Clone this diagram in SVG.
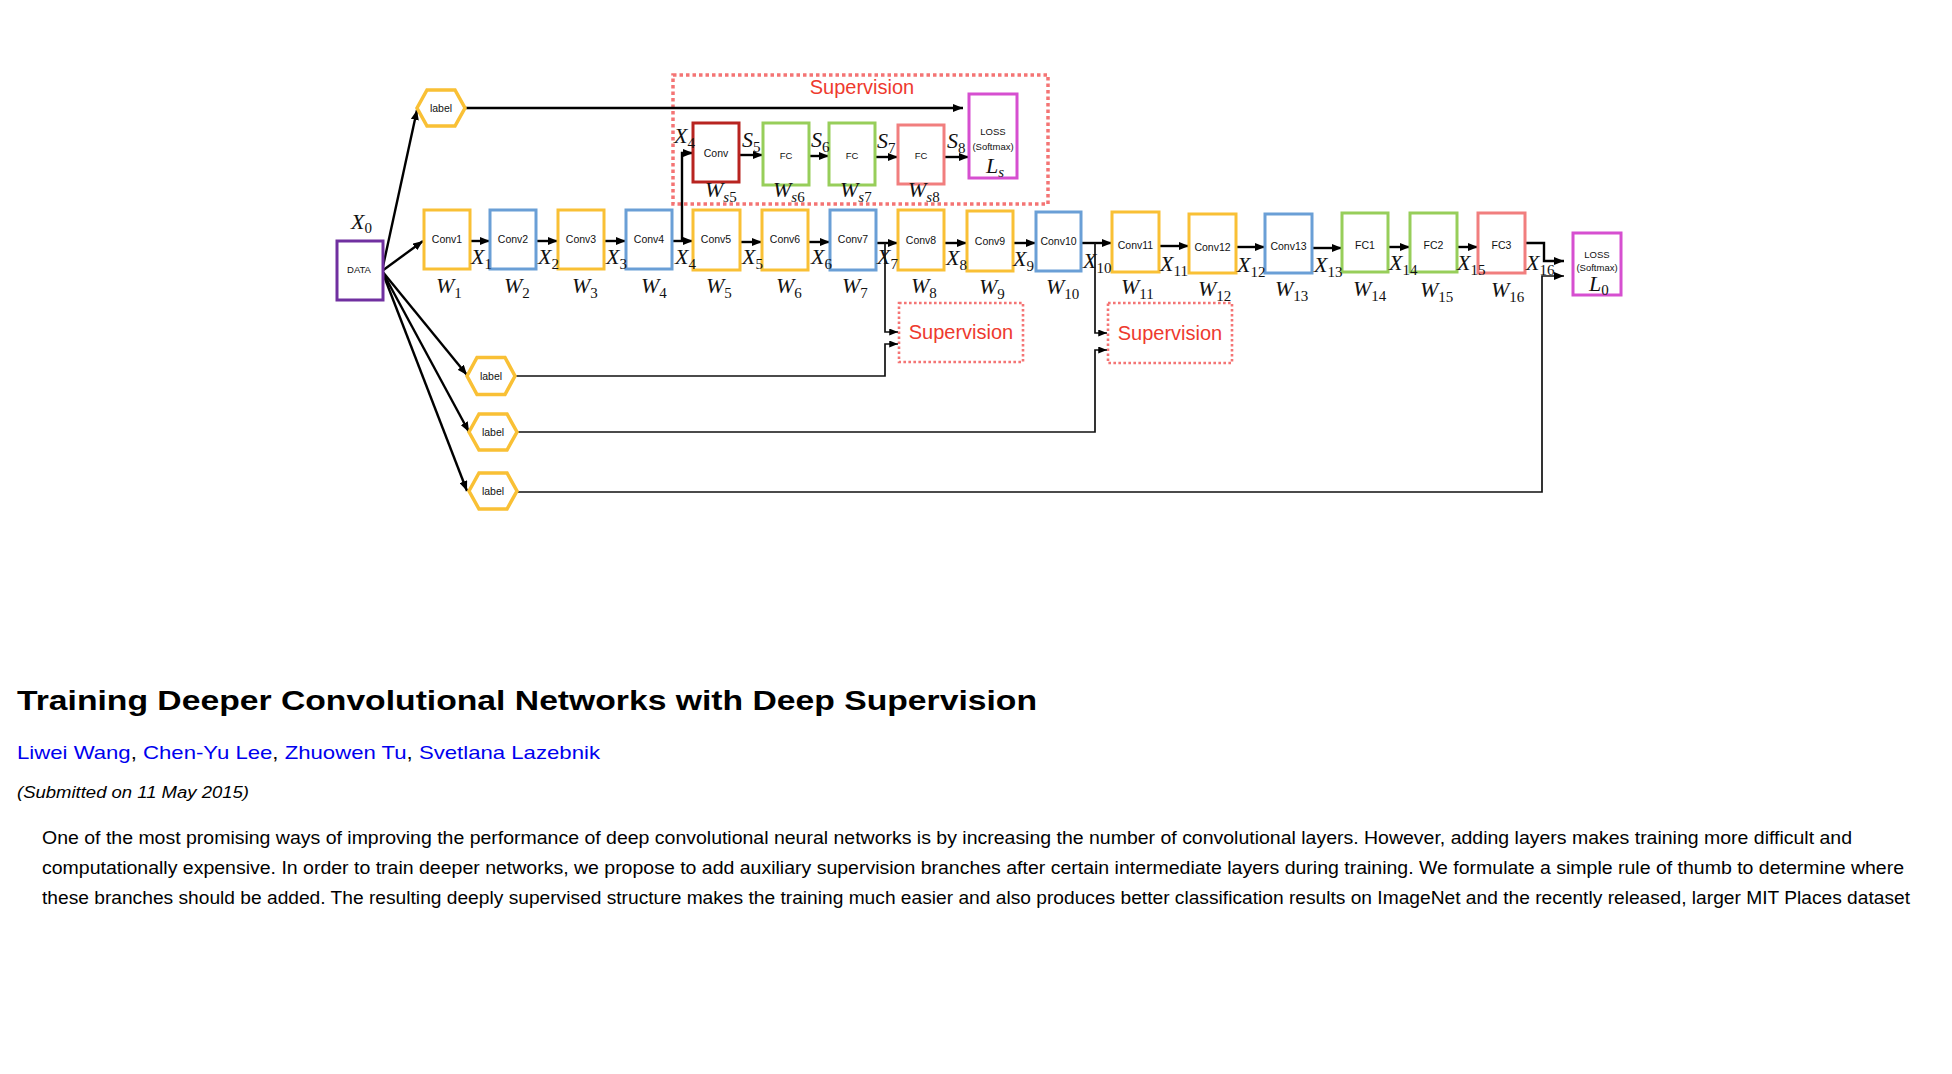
<svg xmlns="http://www.w3.org/2000/svg" width="1952" height="1074" viewBox="0 0 1952 1074">
<defs>
<style>
.bx{fill:#fff;stroke-width:3}
.gold{stroke:#F9C035}.blue{stroke:#6A9FD6}.green{stroke:#97CE5A}.pink{stroke:#F17E7E}.mag{stroke:#D64FD0}.purple{stroke:#7030A0}.dred{stroke:#B82420}
.hex{fill:#fff;stroke:#F9C035;stroke-width:3.5}
.t{font-family:"Liberation Sans",Arial,sans-serif;font-size:10.5px;fill:#111;text-anchor:middle}
.ts{font-family:"Liberation Sans",Arial,sans-serif;font-size:9.5px;fill:#111;text-anchor:middle}
.m{font-family:"Liberation Serif","Times New Roman",serif;font-style:italic;font-size:22px;fill:#111}
.sb{font-size:15px;font-style:normal}
.si{font-size:15px;font-style:italic}
.sup{font-family:"Liberation Sans",Arial,sans-serif;font-size:20px;fill:#EE3A2E;text-anchor:middle}
.dot{fill:none;stroke:#F47474}
.c{fill:none;stroke:#000;stroke-width:2.4}
.c2{fill:none;stroke:#111;stroke-width:1.7}
.body{font-family:"Liberation Sans",Arial,sans-serif;fill:#000}
</style>
<marker id="ah" viewBox="0 0 10 8" refX="10" refY="4" markerWidth="10" markerHeight="8" markerUnits="userSpaceOnUse" orient="auto"><path d="M0,0 L10,4 L0,8 z" fill="#000"/></marker>
<marker id="as" viewBox="0 0 10 8" refX="10" refY="4" markerWidth="9" markerHeight="7" markerUnits="userSpaceOnUse" orient="auto"><path d="M0,0 L10,4 L0,8 z" fill="#000"/></marker>
</defs>
<rect width="1952" height="1074" fill="#fff"/>

<!-- supervision areas -->
<g id="supervision-main">
<rect class="dot" x="673" y="75" width="375" height="129" stroke-width="3.5" stroke-dasharray="3.5 3"/>
<text class="sup" x="862" y="94">Supervision</text>
</g>
<g id="supervision-a">
<rect class="dot" x="899" y="303" width="124" height="59" stroke-width="2.6" stroke-dasharray="2.6 2.4"/>
<text class="sup" x="961" y="339">Supervision</text>
</g>
<g id="supervision-b">
<rect class="dot" x="1108" y="303" width="124" height="60" stroke-width="2.6" stroke-dasharray="2.6 2.4"/>
<text class="sup" x="1170" y="340">Supervision</text>
</g>

<!-- connectors -->
<g id="connectors">
<line class="c" x1="382" y1="271" x2="417" y2="110" marker-end="url(#ah)"/>
<line class="c" x1="382" y1="271" x2="423" y2="241" marker-end="url(#ah)"/>
<line class="c" x1="382" y1="271" x2="467" y2="375" marker-end="url(#ah)"/>
<line class="c" x1="382" y1="271" x2="469" y2="432" marker-end="url(#ah)"/>
<line class="c" x1="382" y1="271" x2="467" y2="491" marker-end="url(#ah)"/>
<line class="c" x1="465" y1="108" x2="963" y2="108" marker-end="url(#ah)"/>
<line class="c" x1="470" y1="241" x2="490" y2="241" marker-end="url(#ah)"/>
<line class="c" x1="536" y1="241" x2="558" y2="241" marker-end="url(#ah)"/>
<line class="c" x1="604" y1="241" x2="626" y2="241" marker-end="url(#ah)"/>
<line class="c" x1="672" y1="241" x2="693" y2="241" marker-end="url(#ah)"/>
<path class="c" d="M682,241 V153 H693" marker-end="url(#ah)"/>
<line class="c" x1="740" y1="242" x2="762" y2="242" marker-end="url(#ah)"/>
<line class="c" x1="808" y1="242" x2="830" y2="242" marker-end="url(#ah)"/>
<line class="c" x1="876" y1="243" x2="898" y2="243" marker-end="url(#ah)"/>
<line class="c" x1="944" y1="243" x2="967" y2="243" marker-end="url(#ah)"/>
<line class="c" x1="1013" y1="243" x2="1036" y2="243" marker-end="url(#ah)"/>
<line class="c" x1="1081" y1="243" x2="1112" y2="243" marker-end="url(#ah)"/>
<line class="c" x1="1159" y1="246" x2="1189" y2="246" marker-end="url(#ah)"/>
<line class="c" x1="1236" y1="247" x2="1265" y2="247" marker-end="url(#ah)"/>
<line class="c" x1="1312" y1="248" x2="1342" y2="248" marker-end="url(#ah)"/>
<line class="c" x1="1388" y1="247" x2="1410" y2="247" marker-end="url(#ah)"/>
<line class="c" x1="1457" y1="247" x2="1478" y2="247" marker-end="url(#ah)"/>
<path class="c" d="M1525,243 H1544 V261 H1564" marker-end="url(#ah)"/>
<line class="c" x1="739" y1="155" x2="763" y2="155" marker-end="url(#ah)"/>
<line class="c" x1="809" y1="156" x2="829" y2="156" marker-end="url(#ah)"/>
<line class="c" x1="875" y1="157" x2="898" y2="157" marker-end="url(#ah)"/>
<line class="c" x1="944" y1="157" x2="969" y2="157" marker-end="url(#ah)"/>
<path class="c2" d="M885,243 V332 H898" marker-end="url(#as)"/>
<path class="c2" d="M1095,243 V333 H1107" marker-end="url(#as)"/>
<path class="c2" d="M515,376 H885 V344 H898" marker-end="url(#as)"/>
<path class="c2" d="M517,432 H1095 V350 H1107" marker-end="url(#as)"/>
<path class="c2" d="M517,492 H1542 V276 H1564" marker-end="url(#ah)"/>
</g>

<!-- nodes -->
<g id="data"><rect class="bx purple" x="337" y="241" width="46" height="59"/><text class="ts" x="359" y="273">DATA</text></g>
<g id="label-top"><polygon class="hex" points="417,108 427,90 455,90 465,108 455,126 427,126"/><text class="t" x="441" y="112">label</text></g>
<g id="label-1"><polygon class="hex" points="467,376 477,357.5 505,357.5 515,376 505,394.5 477,394.5"/><text class="t" x="491" y="380">label</text></g>
<g id="label-2"><polygon class="hex" points="469,432 479,414 507,414 517,432 507,450 479,450"/><text class="t" x="493" y="436">label</text></g>
<g id="label-3"><polygon class="hex" points="469,491 479,473 507,473 517,491 507,509 479,509"/><text class="t" x="493" y="495">label</text></g>

<g id="conv1"><rect class="bx gold" x="424" y="210" width="46" height="59"/><text class="t" x="447" y="243">Conv1</text></g>
<g id="conv2"><rect class="bx blue" x="490" y="210" width="46" height="59"/><text class="t" x="513" y="243">Conv2</text></g>
<g id="conv3"><rect class="bx gold" x="558" y="210" width="46" height="59"/><text class="t" x="581" y="243">Conv3</text></g>
<g id="conv4"><rect class="bx blue" x="626" y="210" width="46" height="59"/><text class="t" x="649" y="243">Conv4</text></g>
<g id="conv5"><rect class="bx gold" x="693" y="210" width="47" height="60"/><text class="t" x="716" y="243">Conv5</text></g>
<g id="conv6"><rect class="bx gold" x="762" y="210" width="46" height="60"/><text class="t" x="785" y="243">Conv6</text></g>
<g id="conv7"><rect class="bx blue" x="830" y="210" width="46" height="60"/><text class="t" x="853" y="243">Conv7</text></g>
<g id="conv8"><rect class="bx gold" x="898" y="210" width="46" height="60"/><text class="t" x="921" y="244">Conv8</text></g>
<g id="conv9"><rect class="bx gold" x="967" y="211" width="46" height="60"/><text class="t" x="990" y="245">Conv9</text></g>
<g id="conv10"><rect class="bx blue" x="1036" y="212" width="45" height="59"/><text class="t" x="1058.5" y="245">Conv10</text></g>
<g id="conv11"><rect class="bx gold" x="1112" y="212" width="47" height="60"/><text class="t" x="1135.5" y="249">Conv11</text></g>
<g id="conv12"><rect class="bx gold" x="1189" y="214" width="47" height="59"/><text class="t" x="1212.5" y="251">Conv12</text></g>
<g id="conv13"><rect class="bx blue" x="1265" y="214" width="47" height="59"/><text class="t" x="1288.5" y="250">Conv13</text></g>
<g id="fc1"><rect class="bx green" x="1342" y="213" width="46" height="59"/><text class="t" x="1365" y="249">FC1</text></g>
<g id="fc2"><rect class="bx green" x="1410" y="213" width="47" height="59"/><text class="t" x="1433.5" y="249">FC2</text></g>
<g id="fc3"><rect class="bx pink" x="1478" y="213" width="47" height="60"/><text class="t" x="1501.5" y="249">FC3</text></g>
<g id="loss0"><rect class="bx mag" x="1573" y="233" width="48" height="62"/><text class="ts" x="1597" y="258">LOSS</text><text class="ts" x="1597" y="271">(Softmax)</text><text class="m" x="1589" y="291">L<tspan class="sb" dy="4">0</tspan></text></g>

<g id="sconv"><rect class="bx dred" x="693" y="123" width="46" height="59"/><text class="t" x="716" y="157">Conv</text></g>
<g id="sfc6"><rect class="bx green" x="763" y="123" width="46" height="62"/><text class="ts" x="786" y="159">FC</text></g>
<g id="sfc7"><rect class="bx green" x="829" y="123" width="46" height="62"/><text class="ts" x="852" y="159">FC</text></g>
<g id="sfc8"><rect class="bx pink" x="898" y="125" width="46" height="59"/><text class="ts" x="921" y="159">FC</text></g>
<g id="loss-s"><rect class="bx mag" x="969" y="94" width="48" height="84"/><text class="ts" x="993" y="135">LOSS</text><text class="ts" x="993" y="150">(Softmax)</text><text class="m" x="986" y="173">L<tspan class="si" dy="4">s</tspan></text></g>

<!-- math labels -->
<g id="math-labels">
<text class="m" x="351" y="229">X<tspan class="sb" dy="4">0</tspan></text>
<text class="m" x="471" y="264">X<tspan class="sb" dy="5">1</tspan></text>
<text class="m" x="538" y="264">X<tspan class="sb" dy="5">2</tspan></text>
<text class="m" x="606" y="264">X<tspan class="sb" dy="5">3</tspan></text>
<text class="m" x="675" y="264">X<tspan class="sb" dy="5">4</tspan></text>
<text class="m" x="674" y="143">X<tspan class="sb" dy="5">4</tspan></text>
<text class="m" x="742" y="264">X<tspan class="sb" dy="5">5</tspan></text>
<text class="m" x="811" y="264">X<tspan class="sb" dy="5">6</tspan></text>
<text class="m" x="877" y="264">X<tspan class="sb" dy="5">7</tspan></text>
<text class="m" x="946" y="265">X<tspan class="sb" dy="5">8</tspan></text>
<text class="m" x="1013" y="266">X<tspan class="sb" dy="5">9</tspan></text>
<text class="m" x="1083" y="268">X<tspan class="sb" dy="5">10</tspan></text>
<text class="m" x="1160" y="271">X<tspan class="sb" dy="5">11</tspan></text>
<text class="m" x="1237" y="272">X<tspan class="sb" dy="5">12</tspan></text>
<text class="m" x="1314" y="272">X<tspan class="sb" dy="5">13</tspan></text>
<text class="m" x="1389" y="270">X<tspan class="sb" dy="5">14</tspan></text>
<text class="m" x="1457" y="270">X<tspan class="sb" dy="5">15</tspan></text>
<text class="m" x="1526" y="270">X<tspan class="sb" dy="5">16</tspan></text>

<text class="m" x="436" y="293">W<tspan class="sb" dy="5">1</tspan></text>
<text class="m" x="504" y="293">W<tspan class="sb" dy="5">2</tspan></text>
<text class="m" x="572" y="293">W<tspan class="sb" dy="5">3</tspan></text>
<text class="m" x="641" y="293">W<tspan class="sb" dy="5">4</tspan></text>
<text class="m" x="706" y="293">W<tspan class="sb" dy="5">5</tspan></text>
<text class="m" x="776" y="293">W<tspan class="sb" dy="5">6</tspan></text>
<text class="m" x="842" y="293">W<tspan class="sb" dy="5">7</tspan></text>
<text class="m" x="911" y="293">W<tspan class="sb" dy="5">8</tspan></text>
<text class="m" x="979" y="294">W<tspan class="sb" dy="5">9</tspan></text>
<text class="m" x="1046" y="294">W<tspan class="sb" dy="5">10</tspan></text>
<text class="m" x="1121" y="294">W<tspan class="sb" dy="5">11</tspan></text>
<text class="m" x="1198" y="296">W<tspan class="sb" dy="5">12</tspan></text>
<text class="m" x="1275" y="296">W<tspan class="sb" dy="5">13</tspan></text>
<text class="m" x="1353" y="296">W<tspan class="sb" dy="5">14</tspan></text>
<text class="m" x="1420" y="297">W<tspan class="sb" dy="5">15</tspan></text>
<text class="m" x="1491" y="297">W<tspan class="sb" dy="5">16</tspan></text>

<text class="m" x="705" y="197">W<tspan class="si" dy="5">s</tspan><tspan class="sb">5</tspan></text>
<text class="m" x="773" y="197">W<tspan class="si" dy="5">s</tspan><tspan class="sb">6</tspan></text>
<text class="m" x="840" y="197">W<tspan class="si" dy="5">s</tspan><tspan class="sb">7</tspan></text>
<text class="m" x="908" y="197">W<tspan class="si" dy="5">s</tspan><tspan class="sb">8</tspan></text>

<text class="m" x="742" y="147">S<tspan class="sb" dy="5">5</tspan></text>
<text class="m" x="811" y="147">S<tspan class="sb" dy="5">6</tspan></text>
<text class="m" x="877" y="148">S<tspan class="sb" dy="5">7</tspan></text>
<text class="m" x="947" y="148">S<tspan class="sb" dy="5">8</tspan></text>
</g>

<!-- page text -->
<g id="page-text">
<text class="body" x="17" y="710" font-size="28" font-weight="bold" textLength="1020" lengthAdjust="spacingAndGlyphs">Training Deeper Convolutional Networks with Deep Supervision</text>
<text class="body" x="17" y="759" font-size="19" textLength="583" lengthAdjust="spacingAndGlyphs"><tspan fill="#0000EE">Liwei Wang</tspan>, <tspan fill="#0000EE">Chen-Yu Lee</tspan>, <tspan fill="#0000EE">Zhuowen Tu</tspan>, <tspan fill="#0000EE">Svetlana Lazebnik</tspan></text>
<text class="body" x="17" y="798" font-size="16" font-style="italic" textLength="232" lengthAdjust="spacingAndGlyphs">(Submitted on 11 May 2015)</text>
<text class="body" x="42" y="844" font-size="17.5" textLength="1810" lengthAdjust="spacingAndGlyphs">One of the most promising ways of improving the performance of deep convolutional neural networks is by increasing the number of convolutional layers. However, adding layers makes training more difficult and</text>
<text class="body" x="42" y="874" font-size="17.5" textLength="1862" lengthAdjust="spacingAndGlyphs">computationally expensive. In order to train deeper networks, we propose to add auxiliary supervision branches after certain intermediate layers during training. We formulate a simple rule of thumb to determine where</text>
<text class="body" x="42" y="904" font-size="17.5" textLength="1868" lengthAdjust="spacingAndGlyphs">these branches should be added. The resulting deeply supervised structure makes the training much easier and also produces better classification results on ImageNet and the recently released, larger MIT Places dataset</text>
</g>
</svg>
